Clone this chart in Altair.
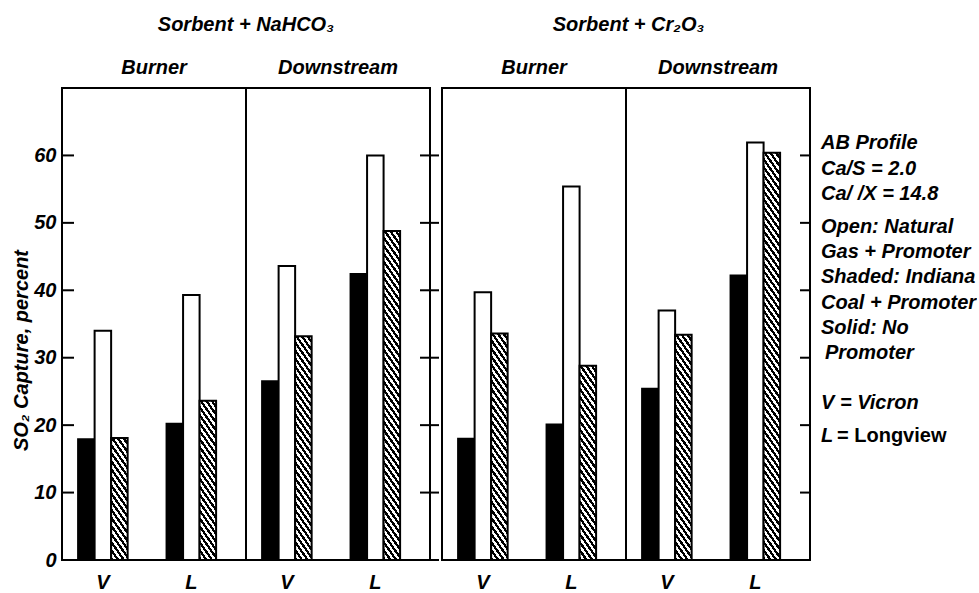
import math
import altair as alt
import pandas as pd

# ---------------- data ----------------
panels = ["Sorbent + NaHCO₃", "Sorbent + Cr₂O₃"]
sections = ["Burner", "Downstream"]
groups = ["V", "L"]
types = ["solid", "open", "shaded"]
# order: P1 Burner V, L | P1 Downstream V, L | P2 Burner V, L | P2 Downstream V, L
solid_vals = [17.9, 20.2, 26.5, 42.4, 18.0, 20.1, 25.4, 42.2]
open_vals = [34.0, 39.3, 43.6, 60.0, 39.7, 55.4, 37.0, 61.9]
shaded_vals = [18.1, 23.6, 33.2, 48.8, 33.6, 28.8, 33.4, 60.4]
y_ticks = [0, 10, 20, 30, 40, 50, 60]
y_title = "SO₂ Capture, percent"
notes_1 = ["AB Profile", "Ca/S = 2.0", "Ca/ /X = 14.8"]
notes_2 = ["Open: Natural", "Gas + Promoter", "Shaded: Indiana",
           "Coal + Promoter", "Solid: No"]
notes_2b = "Promoter"
note_v = "V = Vicron"
note_l = ["L", "= Longview"]

# ---------------- style ----------------
SEC_W = 184
PLOT_H = 472
Y_MAX = 70
FONT = "Liberation Sans"
FS = 20
PAD_IN, PAD_OUT, ALIGN = 0.44, 0.26, 0.35

rows = []
i = 0
for p in panels:
    for s in sections:
        for g in groups:
            for t, vals in zip(types, [solid_vals, open_vals, shaded_vals]):
                rows.append(dict(panel=p, section=s, group=g, type=t, value=vals[i]))
            i += 1
data = pd.DataFrame(rows)

step = SEC_W / (2 - PAD_IN + 2 * PAD_OUT)
BAR_W = step * (1 - PAD_IN) / 3


def hatch(value, angle=55, period=4.6):
    h = value / Y_MAX * PLOT_H
    w = BAR_W
    th = math.radians(angle)
    a = w * math.sin(th)
    b = h * math.cos(th)
    L = a + b
    gx, gy = a / L, -b / L
    g2 = gx * gx + gy * gy
    x2, y2 = gx / g2, 1 + gy / g2
    n = max(1, round(L / period))
    stops = []
    for k in range(n):
        stops += [
            {"offset": k / n, "color": "black"},
            {"offset": (k + 0.5) / n, "color": "black"},
            {"offset": (k + 0.5) / n, "color": "white"},
            {"offset": (k + 1) / n, "color": "white"},
        ]
    return {"gradient": "linear", "x1": 0, "y1": 1, "x2": x2, "y2": y2, "stops": stops}


def text_mark(txt, px, py, style="italic", weight="bold", size=FS):
    return alt.Chart(pd.DataFrame({"t": [txt]})).mark_text(
        align="left", baseline="middle", font=FONT, fontSize=size,
        fontStyle=style, fontWeight=weight, color="black"
    ).encode(text="t:N", x=alt.value(px), y=alt.value(py))


def section_chart(pi_, si):
    p, s = panels[pi_], sections[si]
    df = data[(data.panel == p) & (data.section == s)]
    first = pi_ == 0 and si == 0
    if first:
        yaxis = alt.Axis(title=y_title, values=y_ticks, ticks=False, domain=False, grid=False,
                         labelFont=FONT, labelFontSize=FS, labelFontStyle="italic",
                         labelFontWeight="bold", labelColor="black", labelPadding=6,
                         titleFont=FONT, titleFontSize=FS, titleFontStyle="italic",
                         titleFontWeight="bold", titleColor="black", titlePadding=2,
                         titleY=262)
    else:
        yaxis = None
    y = alt.Y("value:Q", scale=alt.Scale(domain=[0, Y_MAX], nice=False), axis=yaxis)
    x = alt.X("group:N", sort=groups,
              scale=alt.Scale(domain=groups, paddingInner=PAD_IN, paddingOuter=PAD_OUT, align=ALIGN),
              axis=alt.Axis(title=None, labelAngle=0, ticks=False, domain=False,
                            labelFont=FONT, labelFontSize=FS, labelFontStyle="italic",
                            labelFontWeight="bold", labelColor="black", labelPadding=12))
    xo = alt.XOffset("type:N", scale=alt.Scale(domain=types))
    base = alt.Chart(df)
    plain = base.transform_filter(
        alt.FieldOneOfPredicate(field="type", oneOf=["solid", "open"])
    ).mark_bar(stroke="black", strokeWidth=2).encode(
        x=x, xOffset=xo, y=y,
        fill=alt.Fill("type:N", scale=alt.Scale(domain=["solid", "open"], range=["black", "white"]),
                      legend=None),
    )
    layers = [plain]
    for g in groups:
        v = float(df[(df.group == g) & (df.type == "shaded")].value.iloc[0])
        layers.append(
            base.transform_filter((alt.datum.type == "shaded") & (alt.datum.group == g))
            .mark_bar(fill=hatch(v), stroke="black", strokeWidth=2)
            .encode(x=x, xOffset=xo, y=y)
        )
    tick_df = pd.DataFrame({"value": y_ticks})
    tick_span = None
    if first:
        tick_span = (0, 12)
    elif pi_ == 0 and si == 1:
        tick_span = (SEC_W - 10, SEC_W + 9)
    elif pi_ == 1 and si == 1:
        tick_span = (SEC_W - 10, SEC_W)
    if tick_span:
        layers.append(alt.Chart(tick_df).mark_rule(color="black", strokeWidth=2).encode(
            y=y, x=alt.value(tick_span[0]), x2=alt.value(tick_span[1])))
    return alt.layer(*layers).properties(
        width=SEC_W, height=PLOT_H,
        title=alt.TitleParams(s, font=FONT, fontSize=FS, fontStyle="italic", fontWeight="bold",
                              color="black", anchor="middle", offset=10),
    )


panel_charts = []
for pi_, p in enumerate(panels):
    panel_charts.append(
        alt.hconcat(section_chart(pi_, 0), section_chart(pi_, 1), spacing=0, bounds="flush").properties(
            title=alt.TitleParams(p, font=FONT, fontSize=FS, fontStyle="italic", fontWeight="bold",
                                  color="black", anchor="middle", offset=22,
                                  dx=20 if pi_ == 0 else 2)
        )
    )

# annotation block
nx = 9
note_layers = []
for k, t in enumerate(notes_1):
    note_layers.append(text_mark(t, nx, 55 + 25.5 * k))
for k, t in enumerate(notes_2):
    note_layers.append(text_mark(t, nx, 139 + 25.2 * k))
note_layers.append(text_mark(notes_2b, nx + 4, 139 + 25.2 * 5))
note_layers.append(text_mark(note_v, nx, 315))
note_layers.append(text_mark(note_l[0], nx, 348))
note_layers.append(text_mark(note_l[1], nx + 16, 348, style="normal"))
notes_chart = alt.layer(*note_layers).properties(
    width=150, height=PLOT_H, view=alt.ViewBackground(strokeWidth=0)
)

chart = alt.hconcat(*panel_charts, notes_chart, spacing=0).properties(
    padding={"left": 10, "top": 15, "right": 0, "bottom": 0},
    background="white",
).configure_view(stroke="black", strokeWidth=2)

chart.save("out.html", embed_options={"renderer": "svg", "actions": False})
